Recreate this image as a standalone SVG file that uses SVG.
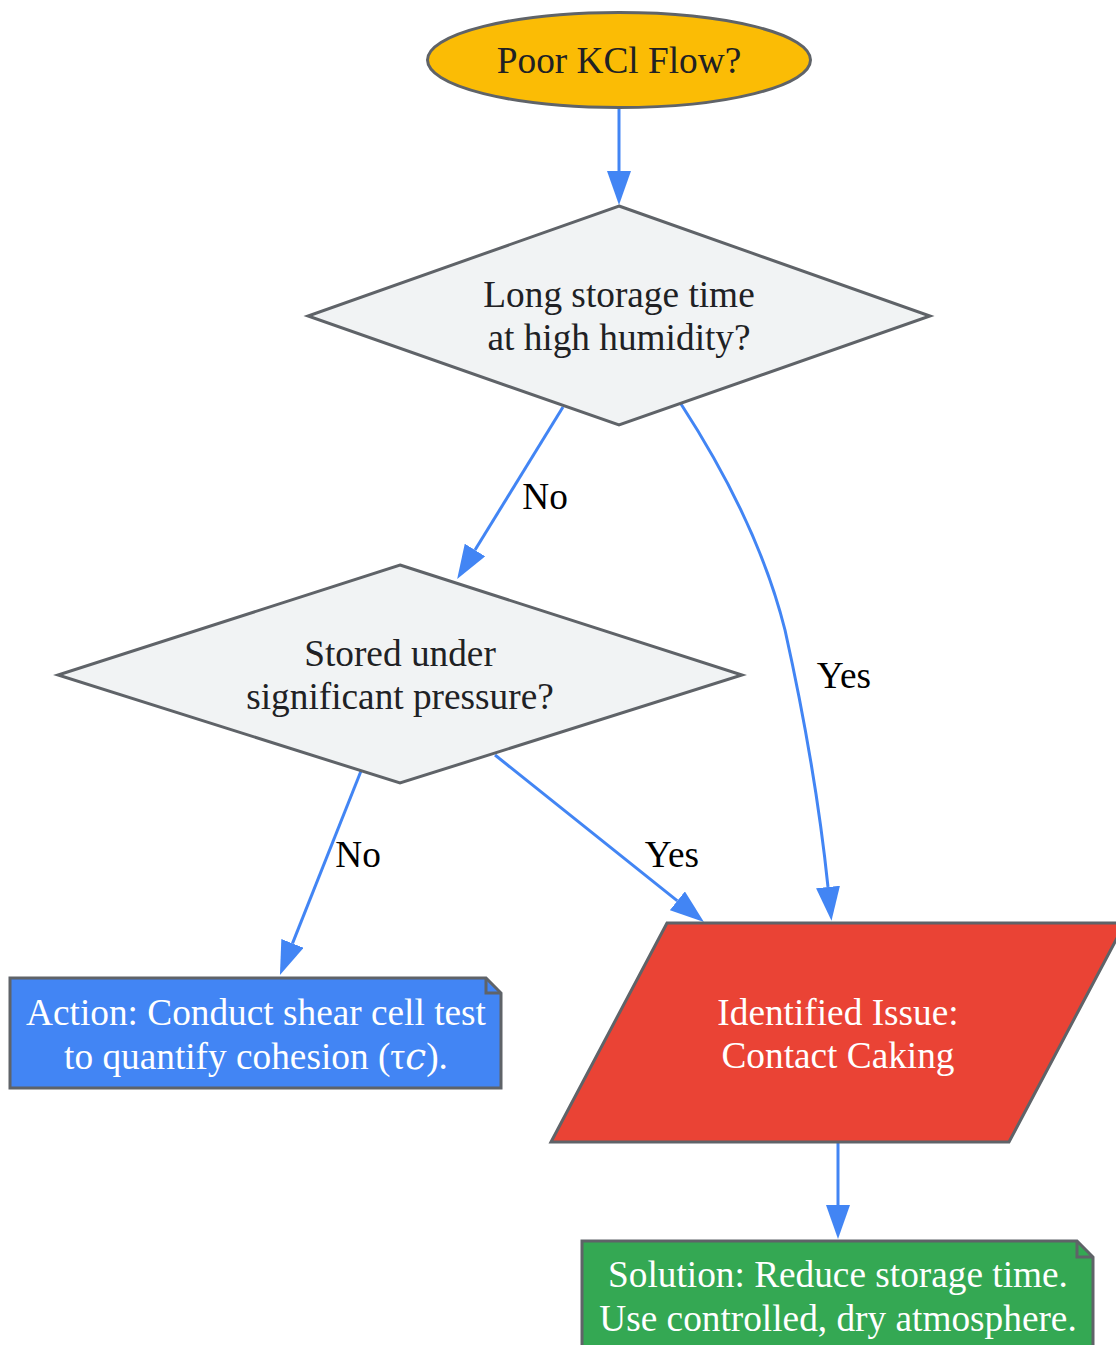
<svg xmlns="http://www.w3.org/2000/svg" width="1116" height="1345" viewBox="0 0 1116 1345">
<defs>
<style>
.node{stroke:#5F6368;stroke-width:3}
.t{font-family:"Liberation Serif","DejaVu Serif","Times New Roman",serif;font-size:37.3px;text-anchor:middle}
.dark{fill:#202124}
.light{fill:#FFFFFF}
.edge{fill:none;stroke:#4285F4;stroke-width:3}
.lbl{font-family:"Liberation Serif","Times New Roman",serif;font-size:37.3px;text-anchor:middle;fill:#000000}
</style>
<marker id="ah" viewBox="0 0 34 24" markerWidth="34" markerHeight="24" markerUnits="userSpaceOnUse" refX="0" refY="12" orient="auto">
<path d="M0,0 L34,12 L0,24 z" fill="#4285F4"/>
</marker>
</defs>
<rect width="1116" height="1345" fill="#FFFFFF"/>
<g id="connectors">
<path class="edge" d="M619,107 L619,171" marker-end="url(#ah)"/>
<path class="edge" d="M563,407 L475,550" marker-end="url(#ah)"/>
<path class="edge" d="M681,404 C740,495 770,570 785,630 C805,720 820,810 828,887" marker-end="url(#ah)"/>
<path class="edge" d="M361,771 L292.5,943.4" marker-end="url(#ah)"/>
<path class="edge" d="M495,755 L677.4,900.8" marker-end="url(#ah)"/>
<path class="edge" d="M838,1143 L838,1205" marker-end="url(#ah)"/>
<text class="lbl" x="545" y="509">No</text>
<text class="lbl" x="844" y="688">Yes</text>
<text class="lbl" x="358" y="867">No</text>
<text class="lbl" x="672" y="867">Yes</text>
</g>
<g id="start">
<ellipse class="node" cx="619" cy="60" rx="191.5" ry="47.5" fill="#FBBC05"/>
<text class="t dark" x="619" y="73">Poor KCl Flow?</text>
</g>
<g id="q1">
<polygon class="node" points="619,206 930,316 619,425 308,316" fill="#F1F3F4"/>
<text class="t dark" x="619" y="307">Long storage time</text>
<text class="t dark" x="619" y="350">at high humidity?</text>
</g>
<g id="q2">
<polygon class="node" points="400,565 742,675 400,783 58,675" fill="#F1F3F4"/>
<text class="t dark" x="400" y="666">Stored under</text>
<text class="t dark" x="400" y="709">significant pressure?</text>
</g>
<g id="action">
<path class="node" d="M10,978 L486,978 L501,993 L501,1088 L10,1088 Z" fill="#4285F4"/>
<path class="node" d="M486,978 L486,993 L501,993" fill="none"/>
<text class="t light" x="256" y="1025">Action: Conduct shear cell test</text>
<text class="t light" x="256" y="1069">to quantify cohesion (τ𝑐).</text>
</g>
<g id="issue">
<polygon class="node" points="551,1142 667,923 1125,923 1009,1142" fill="#EA4335"/>
<text class="t light" x="838" y="1025">Identified Issue:</text>
<text class="t light" x="838" y="1068">Contact Caking</text>
</g>
<g id="solution">
<path class="node" d="M582,1241 L1077,1241 L1093,1257 L1093,1360 L582,1360 Z" fill="#34A853"/>
<path class="node" d="M1077,1241 L1077,1257 L1093,1257" fill="none"/>
<text class="t light" x="838" y="1287">Solution: Reduce storage time.</text>
<text class="t light" x="838" y="1331">Use controlled, dry atmosphere.</text>
</g>
</svg>
